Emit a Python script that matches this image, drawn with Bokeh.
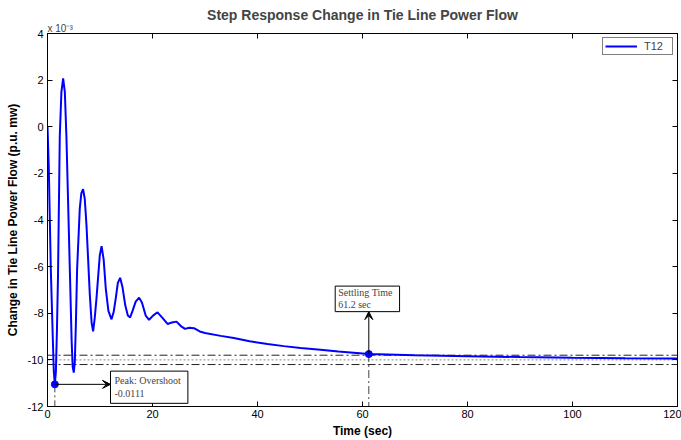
from bokeh.plotting import figure
from bokeh.models import LinearAxis, Span, Label, Arrow, VeeHead, Legend, LegendItem, Range1d
from bokeh.embed import file_html
from bokeh.resources import INLINE

# ---- data (y values in units of 1e-3 p.u. MW) ----
time_s = [0, 0.25, 0.63, 1.0, 1.2, 1.4, 1.6, 1.8, 2.0, 2.34, 2.65, 2.98, 3.3, 3.6, 4.25,
          4.6, 4.8, 5.0, 5.2, 5.4, 5.64, 6.15, 6.45, 6.78, 7.1, 7.43, 8.06, 8.4, 8.69,
          9.0, 9.33, 9.96, 10.3, 10.7, 11.1, 11.6, 12.19, 12.6, 13.0, 13.4, 13.84, 14.3,
          14.8, 15.3, 15.74, 16.2, 16.8, 17.45, 18.0, 18.7, 19.35, 20.1, 20.95, 21.9,
          22.86, 23.7, 24.57, 25.4, 26.2, 27.0, 27.9, 29.0, 30.0, 33, 35.5, 38.5, 41.9,
          45, 48.2, 52, 55.4, 61.2, 70, 80, 90, 100, 110, 120]
tie_flow_milli = [0, -1.8, -6.1, -9.0, -10.5, -11.05, -10.5, -8.7, -6.4, -0.4, 1.5, 2.07,
                  1.5, -0.4, -6.1, -9.2, -10.3, -10.55, -10.1, -8.5, -6.1, -3.5, -2.85,
                  -2.68, -3.1, -4.24, -7.2, -8.4, -8.78, -8.2, -7.36, -5.52, -5.12, -5.7,
                  -6.94, -7.9, -8.26, -7.95, -7.36, -6.7, -6.48, -6.9, -7.65, -8.1, -8.18,
                  -7.9, -7.5, -7.33, -7.55, -8.1, -8.28, -8.1, -7.96, -8.2, -8.46, -8.4,
                  -8.36, -8.55, -8.67, -8.62, -8.64, -8.78, -8.85, -8.97, -9.06, -9.2,
                  -9.32, -9.41, -9.49, -9.57, -9.64, -9.75, -9.8, -9.84, -9.88, -9.91,
                  -9.93, -9.94]

x_ticks = [0, 20, 40, 60, 80, 100, 120]
y_ticks = [-12, -10, -8, -6, -4, -2, 0, 2, 4]
y_tick_labels = ["-12", "-10", "-8", "-6", "-4", "-2", "0", "2", "4"]

peak_t, peak_y = 1.4, -11.05
settle_t, settle_y = 61.2, -9.75
band_hi, band_final, band_lo = -9.8, -10.0, -10.2
peak_arrow_end_t = 12.0
settle_arrow_end_y = -7.93
peak_text = "Peak: Overshoot\n-0.0111"
settle_text = "Settling Time\n61.2 sec"
series_name = "T12"
exponent_text = "x 10\u207b\u00b3"

BLUE = "#0000ff"

p = figure(width=681, height=440, x_range=Range1d(0, 120), y_range=Range1d(-12, 4),
           output_backend="svg", toolbar_location=None,
           min_border_left=47, min_border_right=4, min_border_top=33, min_border_bottom=31,
           background_fill_color="white", border_fill_color="white",
           outline_line_color="black", outline_line_width=1)

p.title.text = "Step Response Change in Tie Line Power Flow"
p.title.align = "center"
p.title.text_font = "Liberation Sans"
p.title.text_font_size = "14px"
p.title.text_font_style = "bold"
p.title.standoff = 0

p.xgrid.visible = False
p.ygrid.visible = False

for ax, ticks in ((p.xaxis[0], x_ticks), (p.yaxis[0], y_ticks)):
    ax.ticker = ticks
    ax.major_tick_in = 5
    ax.major_tick_out = 0
    ax.minor_tick_line_color = None
    ax.major_tick_line_color = "black"
    ax.axis_line_color = "black"
    ax.major_label_text_font = "Liberation Sans"
    ax.major_label_text_font_size = "11px"
    ax.major_label_text_color = "black"
    ax.axis_label_text_font = "Liberation Sans"
    ax.axis_label_text_font_size = "12px"
    ax.axis_label_text_font_style = "bold"
    ax.axis_label_text_color = "black"

p.yaxis.major_label_overrides = dict(zip(y_ticks, y_tick_labels))
p.xaxis.axis_label = "Time (sec)"
p.yaxis.axis_label = "Change in Tie Line Power Flow (p.u. mw)"
p.xaxis.major_label_standoff = 3
p.yaxis.major_label_standoff = 4
p.xaxis.axis_label_standoff = 3
p.yaxis.axis_label_standoff = 5

for loc, ticks in (("above", x_ticks), ("right", y_ticks)):
    ax = LinearAxis(ticker=ticks, major_label_overrides={t: "" for t in ticks},
                    major_label_text_font_size="0px", major_label_standoff=0,
                    major_tick_in=5, major_tick_out=0, minor_tick_line_color=None,
                    major_tick_line_color="black", axis_line_color="black")
    p.add_layout(ax, loc)

# exponent marker above the y axis (placed in the top panel so it is not clipped)
p.add_layout(Label(x=0, y=4, text=exponent_text, text_font="Liberation Sans",
                   text_font_size="10px", text_align="left", text_baseline="alphabetic",
                   y_offset=5), "above")

# band lines
p.add_layout(Span(location=band_hi, dimension="width", line_color="#222222",
                  line_dash="8 3 2 3", line_width=1, level="underlay"))
p.add_layout(Span(location=band_lo, dimension="width", line_color="#222222",
                  line_dash="8 3 2 3", line_width=1, level="underlay"))
p.add_layout(Span(location=band_final, dimension="width", line_color="#888888",
                  line_dash="2 2", line_width=1, level="underlay"))

# vertical guides from markers
p.segment(x0=[peak_t, settle_t], y0=[peak_y, settle_y], x1=[peak_t, settle_t],
          y1=[-12, -12], line_color="#444444", line_dash="8 3 2 3", line_width=1)

# response curve
curve = p.line(time_s, tie_flow_milli, line_color=BLUE, line_width=2)
p.scatter([peak_t, settle_t], [peak_y, settle_y], size=7, fill_color=BLUE, line_color=BLUE)

legend = Legend(items=[LegendItem(label=series_name, renderers=[curve])],
                location="top_right", border_line_color="black", border_line_width=1,
                padding=2, spacing=0, margin=4, glyph_width=32, glyph_height=10,
                label_standoff=7, label_width=26, label_height=10,
                label_text_font="Liberation Sans", label_text_font_size="11px",
                background_fill_color="white", background_fill_alpha=1)
p.add_layout(legend)

# arrows
p.add_layout(Arrow(end=VeeHead(size=8, fill_color="black", line_color="black"),
                   x_start=peak_t, y_start=peak_y, x_end=peak_arrow_end_t, y_end=peak_y,
                   line_color="black", line_width=1))
p.add_layout(Arrow(end=VeeHead(size=8, fill_color="black", line_color="black"),
                   x_start=settle_t, y_start=settle_y, x_end=settle_t, y_end=settle_arrow_end_y,
                   line_color="black", line_width=1))

# annotation boxes
p.add_layout(Label(x=peak_arrow_end_t, y=-10.44, text=peak_text, text_align="left",
                   text_baseline="top", text_font="Liberation Serif", text_font_size="10px",
                   x_offset=0, y_offset=-1,
                   border_line_color="black", background_fill_color="white",
                   padding=dict(left=4, right=7, top=4, bottom=4)))
p.add_layout(Label(x=54.8, y=-7.76, text=settle_text, text_align="left",
                   text_baseline="bottom", text_font="Liberation Serif", text_font_size="10px",
                   x_offset=0, y_offset=-4, text_line_height=1.05,
                   border_line_color="black", background_fill_color="white",
                   padding=dict(left=3, right=7, top=1, bottom=2)))

open("out.html", "w").write(file_html(p, INLINE))
